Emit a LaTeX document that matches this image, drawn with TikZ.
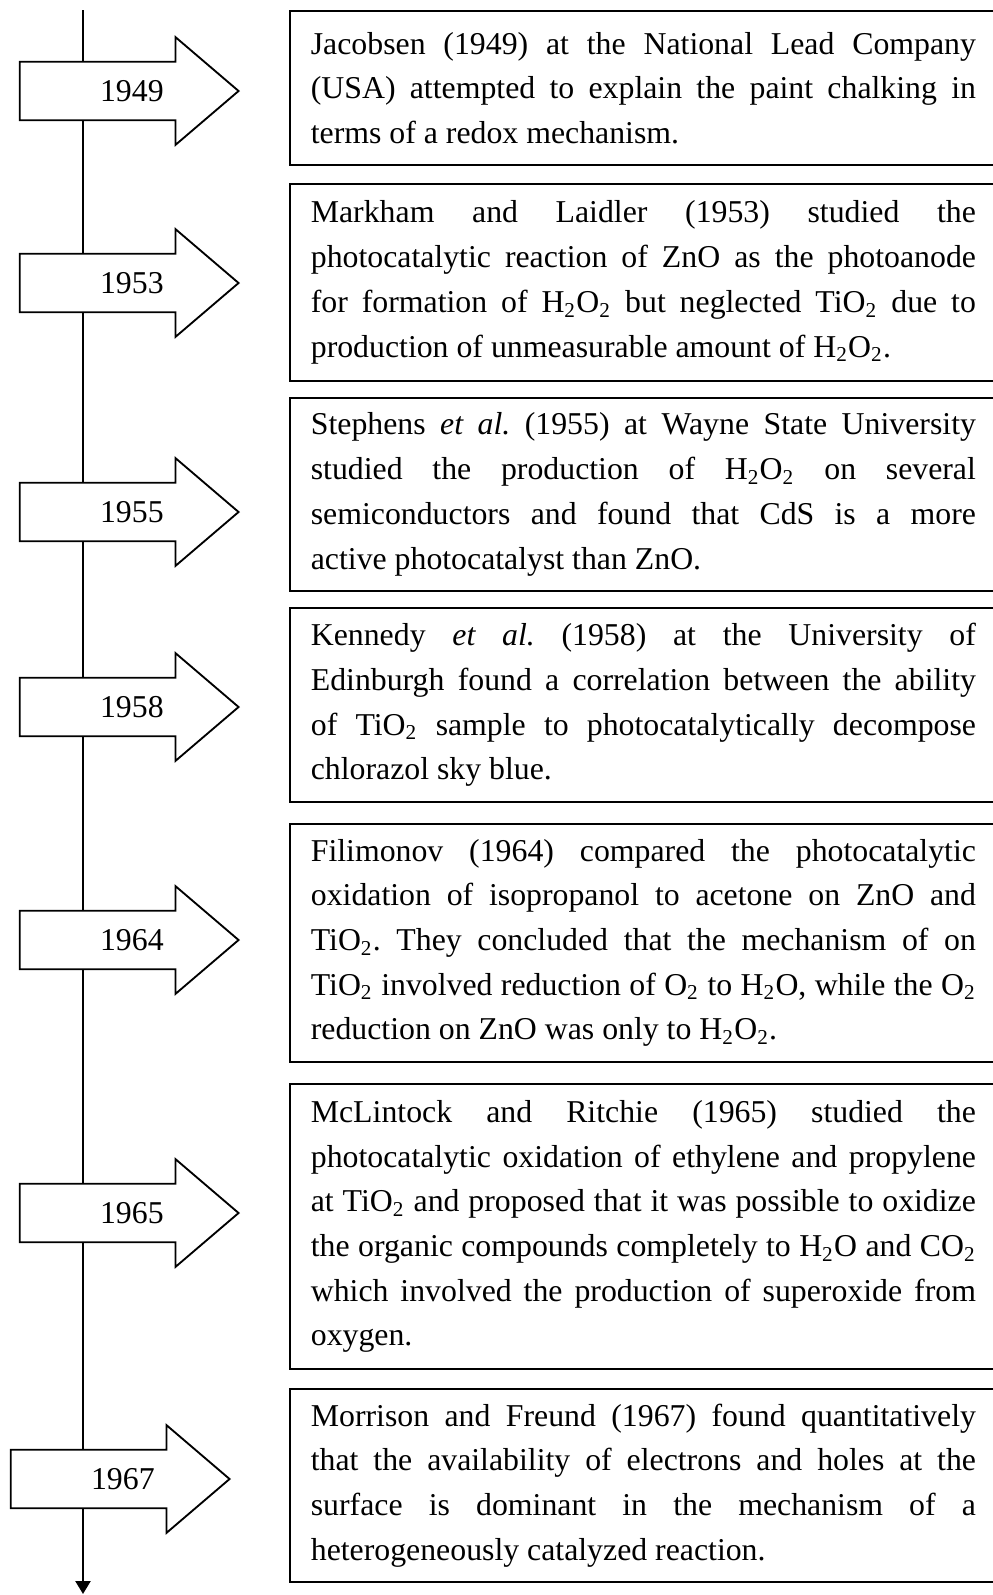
\documentclass[tikz,border=0pt]{standalone}
\usepackage{fontspec}
\setmainfont{Liberation Serif}
\usepackage{tikz}
\usetikzlibrary{arrows.meta, shapes.arrows}
\newcommand{\subs}[1]{\textsubscript{#1}}
\frenchspacing

\begin{document}
\begin{tikzpicture}[x=0.3774pt,y=-0.3774pt,line width=0.7pt,
  yeararrow/.style={single arrow,draw,fill=white,anchor=tip,
    text height=8pt,text depth=0pt,inner ysep=6.7pt,minimum height=82.6pt,
    single arrow head extend=9.3pt,single arrow tip angle=81},
  yeartext/.style={font=\fontsize{12}{14}\selectfont,text height=8pt,text depth=0pt,inner sep=0pt},
  eventbox/.style={draw,anchor=north west,text width=251pt,align=justify,
    inner xsep=7.9pt,inner ysep=2pt,minimum height=#1,
    font={\fontsize{12}{16.87}\selectfont\tolerance=9999\hyphenpenalty=10000}}]
\useasboundingbox (0,0) rectangle (993,1595);
% time axis
\coordinate (axtop) at (83,10);
\coordinate (axbot) at (83,1594);
\draw[-{Triangle[width=5.7pt,length=4.9pt]}] (axtop) -- (axbot);
% years
\node[yeararrow] (y1949) at (240,91) {};
\node[yeararrow] (y1953) at (240,283) {};
\node[yeararrow] (y1955) at (240,512) {};
\node[yeararrow] (y1958) at (240,707) {};
\node[yeararrow] (y1964) at (240,940) {};
\node[yeararrow] (y1965) at (240,1213) {};
\node[yeararrow] (y1967) at (231,1479) {};
\node[yeartext] (t1949) at ([xshift=-40.8pt]y1949.tip) {1949};
\node[yeartext] (t1953) at ([xshift=-40.8pt]y1953.tip) {1953};
\node[yeartext] (t1955) at ([xshift=-40.8pt]y1955.tip) {1955};
\node[yeartext] (t1958) at ([xshift=-40.8pt]y1958.tip) {1958};
\node[yeartext] (t1964) at ([xshift=-40.8pt]y1964.tip) {1964};
\node[yeartext] (t1965) at ([xshift=-40.8pt]y1965.tip) {1965};
\node[yeartext] (t1967) at ([xshift=-40.8pt]y1967.tip) {1967};
% events
\node[eventbox=58.1pt] (e1949) at (289,10) {Jacobsen (1949) at the National Lead Company\linebreak
(USA) attempted to explain the paint chalking in\linebreak
terms of a redox mechanism.};
\node[eventbox=74.3pt] (e1953) at (289,183) {Markham and Laidler (1953) studied the\linebreak
photocatalytic reaction of ZnO as the photoanode\linebreak
for formation of H\subs{2}O\subs{2} but neglected TiO\subs{2} due to\linebreak
production of unmeasurable amount of H\subs{2}O\subs{2}.};
\node[eventbox=72.8pt] (e1955) at (289,397) {Stephens \textit{et al.} (1955) at Wayne State University\linebreak
studied the production of H\subs{2}O\subs{2} on several\linebreak
semiconductors and found that CdS is a more\linebreak
active photocatalyst than ZnO.};
\node[eventbox=73.2pt] (e1958) at (289,607) {Kennedy \textit{et al.} (1958) at the University of\linebreak
Edinburgh found a correlation between the ability\linebreak
of TiO\subs{2} sample to photocatalytically decompose\linebreak
chlorazol sky blue.};
\node[eventbox=89.8pt] (e1964) at (289,823) {Filimonov (1964) compared the photocatalytic\linebreak
oxidation of isopropanol to acetone on ZnO and\linebreak
TiO\subs{2}. They concluded that the mechanism of on\linebreak
TiO\subs{2} involved reduction of O\subs{2} to H\subs{2}O, while the O\subs{2}\linebreak
reduction on ZnO was only to H\subs{2}O\subs{2}.};
\node[eventbox=107.6pt] (e1965) at (289,1083) {McLintock and Ritchie (1965) studied the\linebreak
photocatalytic oxidation of ethylene and propylene\linebreak
at TiO\subs{2} and proposed that it was possible to oxidize\linebreak
the organic compounds completely to H\subs{2}O and CO\subs{2}\linebreak
which involved the production of superoxide from\linebreak
oxygen.};
\node[eventbox=72.8pt] (e1967) at (289,1388) {Morrison and Freund (1967) found quantitatively\linebreak
that the availability of electrons and holes at the\linebreak
surface is dominant in the mechanism of a\linebreak
heterogeneously catalyzed reaction.};
\end{tikzpicture}
\end{document}
